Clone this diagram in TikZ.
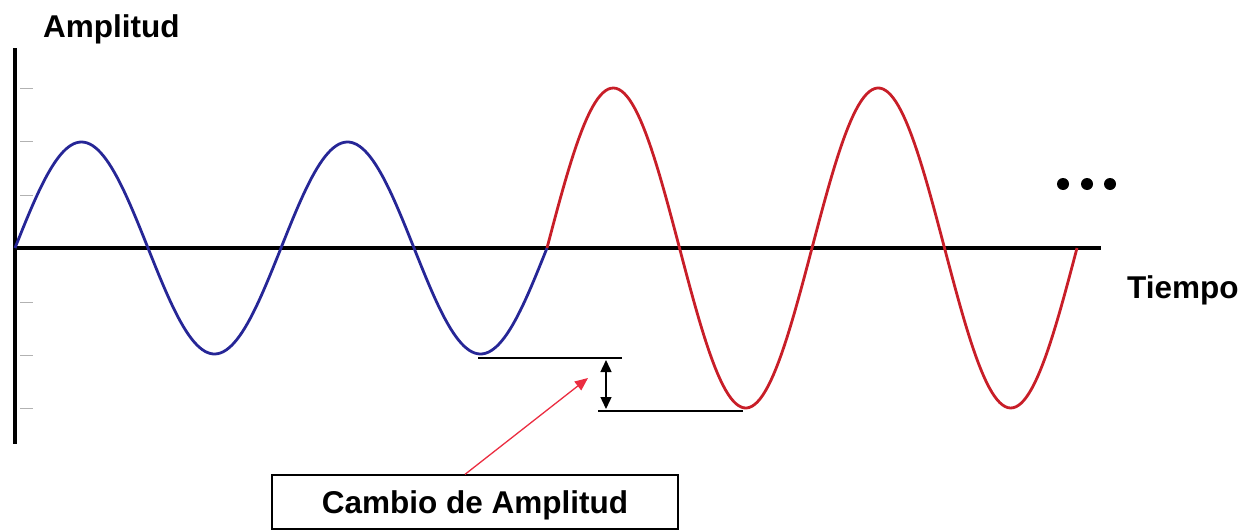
\documentclass[tikz,border=0pt]{standalone}
\usepackage{fontspec}
\setmainfont{Liberation Sans}
\usetikzlibrary{arrows.meta}

\definecolor{waveblue}{RGB}{38,38,150}
\definecolor{wavered}{RGB}{200,30,40}
\definecolor{pointred}{RGB}{235,45,65}

\begin{document}
\begin{tikzpicture}[x=1pt, y=-1pt,
axis/.style = {line width=3.2pt, black},
axtick/.style = {line width=1pt, gray!60},
wave/.style = {line width=2.8pt, line join=round},
guide/.style = {line width=1.4pt, black},
every node/.style = {font=\fontsize{31.5}{38}\selectfont\bfseries, inner sep=0pt}
                    ]
\useasboundingbox (0,0) rectangle (1244,530);
\coordinate (top)  at (15,48);
\coordinate (bot)  at (15,444);
\coordinate (orig) at (15,248);
\coordinate (tend) at (1101,248);
\draw[axis] (top) -- (bot);
\draw[axis] (orig) -- (tend);
\foreach \y in {88,141,195,302,355,408}
    \draw[axtick] (20,\y) -- (33,\y);
%
\draw[wave, waveblue] plot[domain=15:547, samples=200]
        (\x, {248-106*sin((\x-15)/266*360)});
\draw[wave, wavered] plot[domain=547:1077, samples=200]
        (\x, {248-160*sin((\x-547)/265*360)});
%
\coordinate (bluemin) at (478,358);
\coordinate (gA)      at (622,358);
\coordinate (gB)      at (598,411);
\coordinate (redmin)  at (743,411);
\coordinate (arrT)    at (606,360);
\coordinate (arrB)    at (606,409);
\draw[guide] (bluemin) -- (gA);
\draw[guide] (gB) -- (redmin);
\draw[guide, {Triangle[length=12pt,width=11pt]}-{Triangle[length=12pt,width=11pt]}]
        (arrT) -- (arrB);
%
\node[draw, line width=1.3pt, minimum width=406pt, minimum height=54pt,
      text depth=0pt] (cambio) at (475,502) {Cambio de Amplitud};
\coordinate (tip) at (588,378);
\draw[pointred, line width=1.3pt, -{Triangle[length=13pt,width=11pt]}]
        ([xshift=-10pt]cambio.north) -- (tip);
%
\node[anchor=base west] (amp)    at (43,37)    {Amplitud};
\node[anchor=base west] (tiempo) at (1127,298) {Tiempo};
\foreach \x in {1063,1087,1110}
    \fill (\x,184) circle[radius=6pt];
\end{tikzpicture}
\end{document}
